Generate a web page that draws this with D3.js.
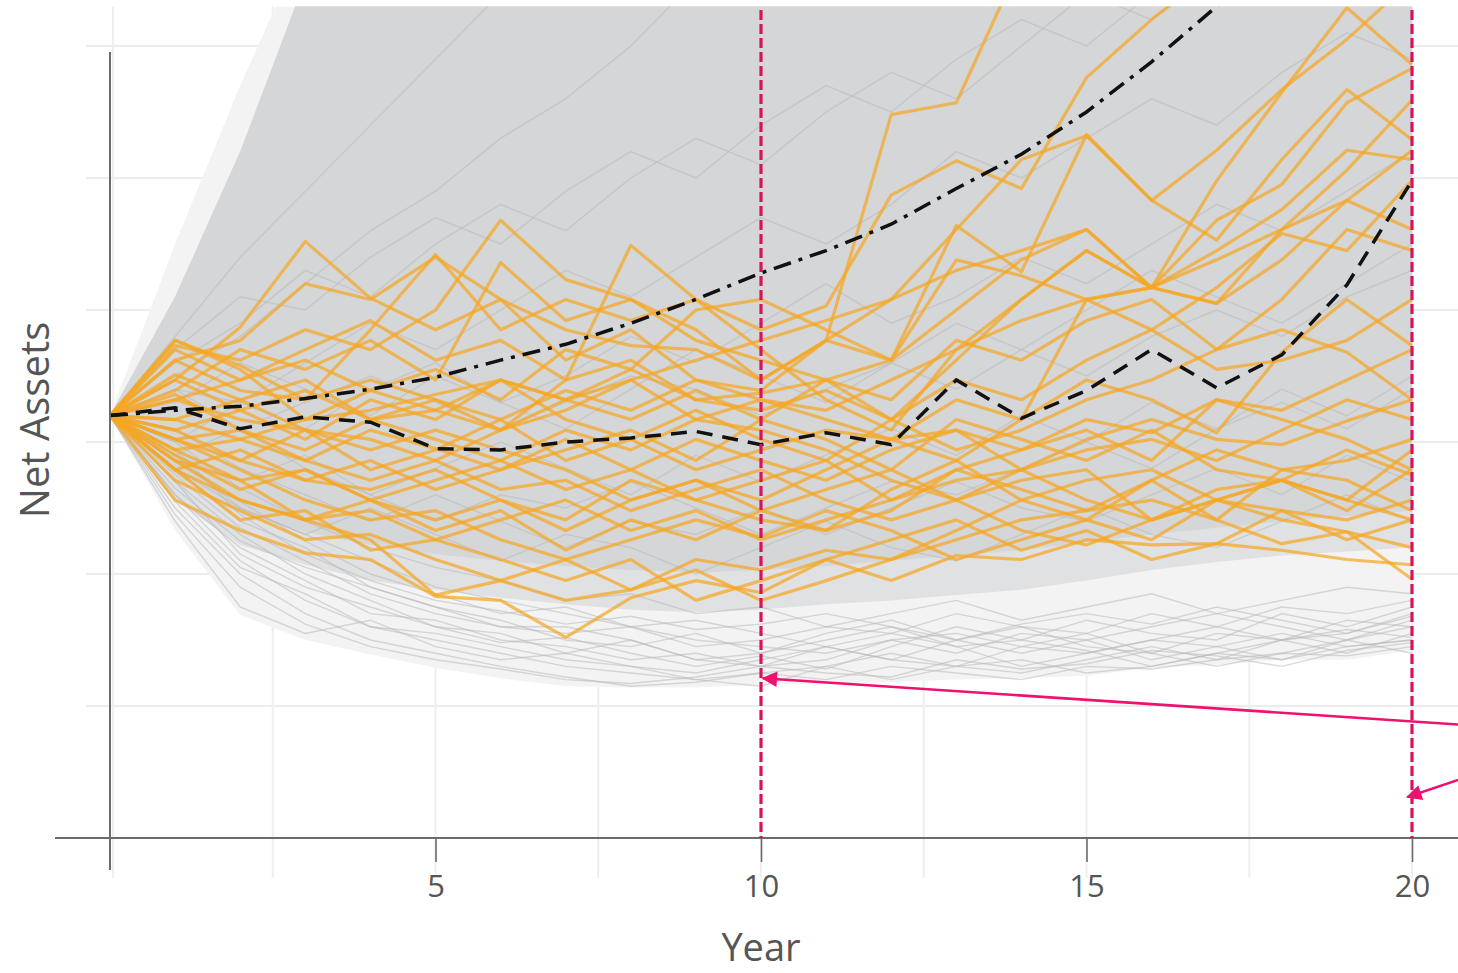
<!DOCTYPE html>
<html>
<head>
<meta charset="utf-8">
<script src="https://cdn.jsdelivr.net/npm/d3@7"></script>
<style>
  html, body { margin: 0; padding: 0; background: #ffffff; }
  svg { display: block; }
</style>
</head>
<body>
<svg id="chart" width="1458" height="973"></svg>
<script>
// ---------------- DATA ----------------
const years = d3.range(0, 21);
const tickYears = [5, 10, 15, 20];
const gridYears = [0, 2.5, 5, 7.5, 10, 12.5, 15, 17.5, 20];
const gridValues = [1, 2, 3, 4, 5, 6];
const markerYears = [10, 20];
const xTitle = "Year";
const yTitle = "Net Assets";

// median (dashed) and mean (dash-dot) of all simulated paths
const medianValues = [3.20,3.26,3.10,3.19,3.15,2.95,2.94,3.00,3.03,3.08,2.98,3.07,2.98,3.47,3.18,3.39,3.70,3.41,3.66,4.19,4.98];
const meanValues   = [3.20,3.24,3.27,3.33,3.40,3.49,3.62,3.74,3.90,4.08,4.28,4.45,4.65,4.92,5.18,5.50,5.88,6.30,6.80,7.40,8.10];

// envelope of the dense grey cloud of simulated paths
const cloudOuterUpper = [3.2,4.5,5.7,6.8,7.5,8,8.5,9,9.5,10,10.5,11,11.5,12,12.5,13,13.5,14,14.5,15,15.5];
const cloudOuterLower = [3.2,2.33,1.69,1.50,1.39,1.29,1.21,1.15,1.14,1.14,1.16,1.17,1.18,1.20,1.21,1.23,1.29,1.31,1.35,1.35,1.42];
const cloudCoreUpper  = [3.2,4.1,5.2,6.5,7.2,7.8,8.3,8.8,9.3,9.8,10.3,10.8,11.3,11.8,12.3,12.8,13.3,13.8,14.3,14.8,15.3];
const cloudCoreLower  = [3.2,2.56,2.22,2.07,1.95,1.88,1.82,1.77,1.73,1.71,1.73,1.77,1.80,1.84,1.88,1.95,2.03,2.09,2.14,2.17,2.20];
const cloudInnerLower = [3.2,2.75,2.45,2.32,2.22,2.15,2.10,2.06,2.03,2.01,2.03,2.06,2.10,2.14,2.18,2.24,2.30,2.35,2.40,2.44,2.48];

// individual grey simulated paths
const grayPaths = [
  [3.2,2.6,2.1,1.8,1.6,1.5,1.4,1.3,1.25,1.2,1.25,1.3,1.2,1.3,1.35,1.25,1.3,1.4,1.35,1.45,1.5],
  [3.2,2.4,1.75,1.55,1.65,1.45,1.35,1.4,1.3,1.2,1.15,1.3,1.4,1.3,1.25,1.35,1.45,1.35,1.5,1.4,1.55],
  [3.2,2.7,2.3,2.0,1.8,1.6,1.55,1.4,1.5,1.35,1.3,1.45,1.35,1.5,1.6,1.45,1.4,1.55,1.5,1.65,1.6],
  [3.2,2.8,2.4,2.2,1.9,1.75,1.65,1.5,1.45,1.55,1.4,1.5,1.6,1.45,1.5,1.65,1.55,1.5,1.7,1.6,1.75],
  [3.2,2.5,2.0,1.7,1.5,1.4,1.3,1.22,1.15,1.18,1.25,1.2,1.3,1.25,1.2,1.3,1.28,1.35,1.4,1.38,1.45],
  [3.2,2.9,2.5,2.3,2.1,1.9,1.8,1.7,1.6,1.5,1.45,1.4,1.5,1.55,1.45,1.4,1.5,1.6,1.5,1.55,1.7],
  [3.2,2.6,2.2,1.95,1.7,1.65,1.5,1.45,1.35,1.4,1.3,1.35,1.5,1.4,1.55,1.5,1.35,1.45,1.55,1.45,1.5],
  [3.2,2.75,2.35,2.1,1.85,1.7,1.6,1.55,1.6,1.45,1.5,1.6,1.55,1.45,1.3,1.4,1.5,1.45,1.35,1.5,1.6],
  [3.2,2.85,2.55,2.25,2.0,1.85,1.7,1.75,1.6,1.65,1.55,1.45,1.55,1.7,1.6,1.55,1.7,1.6,1.75,1.7,1.8],
  [3.2,3.0,2.65,2.4,2.2,2.05,1.95,1.8,1.85,1.7,1.75,1.6,1.7,1.8,1.65,1.75,1.85,1.7,1.8,1.9,1.85],
  [3.2,2.55,2.05,1.85,1.6,1.55,1.45,1.35,1.3,1.25,1.35,1.45,1.35,1.3,1.45,1.55,1.4,1.3,1.4,1.5,1.4],
  [3.2,2.65,2.25,2.05,1.9,1.75,1.6,1.6,1.5,1.35,1.4,1.55,1.65,1.5,1.4,1.5,1.6,1.7,1.6,1.5,1.65],
  [3.2,3.6,3.9,4.3,4.1,4.5,4.8,4.6,5.0,5.3,5.1,5.5,5.8,5.6,6.0,6.4,6.2,6.6,7.0,6.8,7.2],
  [3.2,3.4,3.3,3.6,3.9,3.7,4.0,4.3,4.1,4.4,4.7,4.5,4.8,5.2,5.0,5.3,5.6,5.4,5.8,6.1,5.9],
  [3.2,3.0,3.3,3.1,3.4,3.6,3.3,3.5,3.8,3.6,3.9,4.2,3.9,4.1,4.4,4.2,4.5,4.8,4.6,4.9,5.2],
  [3.2,2.9,2.7,2.9,2.6,2.8,3.0,2.8,2.6,2.9,2.7,2.9,3.1,2.9,3.2,3.0,3.3,3.1,3.4,3.2,3.5],
  [3.2,3.8,4.4,4.9,5.4,5.9,6.4,6.9,7.4,8,8.5,9,9.5,10,10.5,11,11.5,12,12.5,13,13.5],
  [3.2,3.5,3.8,4.2,4.6,4.9,5.3,5.6,6.0,6.5,6.9,7.3,7.6,8,8.4,8.8,9.2,9.6,10,10.4,10.8],
  [3.2,2.8,2.5,2.3,2.5,2.3,2.1,2.3,2.2,2.0,2.2,2.4,2.2,2.1,2.3,2.5,2.3,2.2,2.4,2.6,2.4],
  [3.2,3.1,2.8,2.6,2.4,2.6,2.4,2.2,2.4,2.3,2.5,2.3,2.5,2.7,2.5,2.4,2.6,2.8,2.6,2.9,2.7],
  [3.2,3.3,3.6,3.4,3.2,3.5,3.3,3.1,3.4,3.7,3.5,3.3,3.6,3.9,3.7,4.0,4.3,4.1,3.9,4.2,4.5],
  [3.2,3.7,4.1,4.0,4.4,4.7,4.5,4.9,5.2,5.0,5.4,5.7,5.5,5.9,6.2,6.0,6.4,6.8,6.6,7.0,7.4],
  [3.2,2.9,3.1,2.8,2.6,2.4,2.6,2.5,2.7,2.5,2.3,2.5,2.7,2.6,2.8,3.0,2.8,3.1,3.3,3.1,3.4],
  [3.2,3.4,3.1,3.3,3.5,3.3,3.1,3.3,3.5,3.4,3.2,3.4,3.6,3.4,3.7,3.5,3.8,4.0,3.8,4.1,4.3],
  [3.2,2.45,1.9,1.62,1.45,1.35,1.28,1.2,1.17,1.22,1.3,1.25,1.22,1.35,1.28,1.32,1.42,1.38,1.3,1.42,1.48],
  [3.2,2.7,2.15,1.9,1.75,1.6,1.48,1.52,1.4,1.3,1.38,1.28,1.45,1.6,1.5,1.42,1.3,1.4,1.5,1.58,1.52],
  [3.2,2.95,2.45,2.15,1.95,1.8,1.72,1.62,1.68,1.58,1.62,1.7,1.6,1.5,1.62,1.7,1.62,1.75,1.65,1.55,1.68]
];

// highlighted (orange) sample paths
const orangePaths = [
  [3.20,3.47,3.87,4.52,4.09,3.85,4.08,3.62,3.85,3.47,3.39,3.77,4.08,4.61,5.14,5.32,4.83,5.21,5.67,6.05,6.50],
  [3.20,3.62,3.77,4.20,4.08,4.40,4.08,3.85,3.73,3.70,3.47,3.77,3.62,4.00,4.38,4.61,4.17,4.68,4.95,5.57,5.83],
  [3.20,3.73,3.62,3.85,3.70,4.00,4.68,4.23,4.08,3.77,3.62,3.47,3.17,3.62,4.08,4.45,4.17,4.45,4.76,5.21,5.14],
  [3.20,3.39,3.70,3.55,3.77,3.47,4.36,3.92,4.08,3.85,3.47,3.77,5.48,5.57,6.65,7.11,7.48,7.86,8.24,8.62,9.00],
  [3.20,3.77,3.58,3.32,3.85,4.42,3.85,4.08,3.92,4.08,3.85,4.03,4.87,5.13,4.92,5.76,6.20,6.58,6.95,7.26,7.56],
  [3.20,3.32,3.47,3.62,3.39,3.55,3.32,3.70,3.55,4.00,4.08,3.85,3.62,4.64,4.29,5.33,4.83,4.53,5.14,5.67,5.29],
  [3.20,3.09,3.24,3.02,3.32,3.17,3.47,3.32,3.17,3.39,3.17,3.47,3.62,4.38,4.26,4.08,4.17,4.05,4.61,5.06,5.59],
  [3.20,3.51,3.32,3.47,3.17,3.32,3.09,3.47,4.49,4.08,3.70,3.32,3.09,3.70,4.08,4.45,4.17,4.98,5.65,6.29,5.86],
  [3.20,3.02,2.86,3.09,2.79,2.94,3.17,2.86,3.02,2.79,2.94,3.09,3.02,3.32,3.17,3.47,3.32,3.07,3.68,4.08,3.73],
  [3.20,2.86,2.71,2.79,2.56,2.71,2.86,2.64,2.79,3.02,2.86,2.71,2.94,3.09,2.79,3.02,3.17,3.02,2.98,3.16,3.32],
  [3.20,2.79,2.56,2.41,2.48,2.26,2.41,2.56,2.33,2.48,2.26,2.41,2.56,2.71,2.79,2.56,2.41,2.64,2.71,2.94,2.75],
  [3.20,2.71,2.48,2.26,2.30,2.11,1.95,2.11,1.88,2.03,1.80,1.95,2.11,2.26,2.41,2.48,2.56,2.41,2.23,2.32,2.20],
  [3.20,2.56,2.33,2.16,2.11,1.83,1.80,1.52,1.82,1.95,1.86,2.11,2.26,2.41,2.18,2.33,2.11,2.23,2.18,2.11,2.07],
  [3.20,2.94,3.02,2.86,3.09,2.95,2.79,2.94,3.09,2.86,3.17,3.02,2.79,3.17,3.02,2.86,3.09,2.79,2.71,2.56,2.41],
  [3.20,3.70,3.47,3.70,3.92,3.62,3.77,3.47,3.62,3.32,3.37,3.47,3.32,3.77,3.62,3.92,4.08,3.70,3.85,3.68,3.32],
  [3.20,3.17,3.32,3.09,2.94,3.09,2.94,2.79,2.56,2.71,2.48,2.64,2.79,2.56,2.71,2.79,2.41,2.56,2.71,2.56,2.94],
  [3.20,3.02,2.79,2.56,2.41,2.48,2.26,2.11,2.26,2.41,2.28,2.48,2.33,2.11,2.26,2.41,2.26,2.56,2.48,2.26,2.41],
  [3.20,2.86,2.56,2.41,2.26,1.84,1.95,1.80,1.88,2.11,2.03,2.18,2.11,2.33,2.56,2.71,2.79,2.56,2.41,2.32,1.96],
  [3.20,3.47,3.24,3.39,3.17,3.24,3.47,3.17,3.02,3.24,3.02,2.86,3.17,3.47,3.32,3.62,3.85,3.55,3.62,3.77,4.08],
  [3.20,3.36,3.09,2.94,3.17,3.02,2.86,3.09,2.94,3.17,3.32,3.24,3.47,3.70,3.92,4.08,3.85,4.17,4.58,4.45,4.98],
  [3.20,2.79,2.94,2.71,2.86,2.64,2.79,3.02,2.79,2.56,2.71,2.86,2.56,2.79,2.94,3.09,2.86,3.32,3.17,3.02,2.79],
  [3.20,3.09,2.86,2.71,2.64,2.79,2.56,2.41,2.71,2.56,2.41,2.33,2.48,2.79,2.64,2.48,2.71,2.41,2.79,2.86,3.02],
  [3.20,3.77,3.55,3.17,3.39,3.24,3.09,3.32,3.47,3.17,3.09,2.94,2.71,2.56,2.79,2.94,3.02,2.86,3.09,3.32,3.17],
  [3.20,2.94,2.71,2.41,2.56,2.33,2.48,2.18,2.41,2.26,2.48,2.33,2.64,2.86,3.17,4.08,4.17,4.38,4.61,4.83,4.61],
  [3.20,3.32,3.17,3.09,3.02,2.86,3.09,3.24,3.47,3.62,3.77,3.92,4.08,4.30,4.45,4.61,4.17,4.05,4.38,4.83,5.21],
  [3.20,2.79,2.41,2.48,2.18,2.26,2.11,1.95,2.11,1.80,1.95,2.11,1.95,2.14,2.11,2.26,2.22,2.23,2.48,2.41,2.56],
  [3.20,3.62,3.39,3.32,3.47,3.32,3.17,3.39,3.24,3.47,3.32,3.17,3.02,3.09,2.94,3.17,3.07,3.32,3.24,3.47,3.70],
  [3.20,3.17,3.02,3.17,3.24,3.36,3.47,3.32,3.55,3.32,3.24,3.39,3.17,2.94,3.09,3.32,3.47,3.70,4.08,4.61,4.45],
  [3.20,3.02,3.09,2.86,2.71,2.86,2.64,2.71,2.48,2.64,2.79,2.56,2.41,2.56,2.33,2.22,2.41,2.56,2.71,2.48,2.79],
  [3.20,2.90,2.64,2.79,2.56,2.41,2.56,2.33,2.56,2.71,2.56,2.79,3.02,2.86,2.56,2.41,2.71,2.94,2.79,2.71,2.48]
];

// annotation arrows (coming in from the right margin)
const arrowTails = [{year: 20.71, value: 0.86}, {year: 20.71, value: 0.44}];
const arrowTips  = [{year: 10.03, value: 1.21}, {year: 19.93, value: 0.31}];

// ---------------- DRAW ----------------
const svg = d3.select("#chart");
const x = d3.scaleLinear().domain([0, 20]).range([110, 1412]);
const y = d3.scaleLinear().domain([0, 6.3]).range([838, 6.4]);
const FONT = "'Open Sans', 'Noto Sans', sans-serif";

const defs = svg.append("defs");
defs.append("clipPath").attr("id", "plotClip")
  .append("rect").attr("x", x(0)).attr("y", y(6.3)).attr("width", x(20) - x(0) + 2).attr("height", y(0) - y(6.3));
defs.append("filter").attr("id", "soft").append("feGaussianBlur").attr("stdDeviation", 6);

// grid
svg.append("g").selectAll("line").data(gridValues).join("line")
  .attr("x1", 86).attr("x2", 1458)
  .attr("y1", d => y(d)).attr("y2", d => y(d))
  .attr("stroke", "#ececec").attr("stroke-width", 2);
svg.append("g").selectAll("line").data(gridYears).join("line")
  .attr("x1", d => x(d) + (d === 0 ? 3 : 0)).attr("x2", d => x(d) + (d === 0 ? 3 : 0))
  .attr("y1", y(6.3)).attr("y2", 878)
  .attr("stroke", "#efefef").attr("stroke-width", 2);

const plot = svg.append("g").attr("clip-path", "url(#plotClip)");

// cloud bands
const band = (lo, hi) => d3.area().x((d, i) => x(years[i])).y0((d, i) => y(lo[i])).y1((d, i) => y(hi[i]));
plot.append("path").datum(years)
  .attr("d", band(cloudOuterLower, cloudOuterUpper))
  .attr("fill", "#f3f3f3");
plot.append("path").datum(years)
  .attr("d", band(cloudCoreLower, cloudCoreUpper))
  .attr("fill", "#e0e1e3");
plot.append("path").datum(years)
  .attr("d", band(cloudInnerLower, cloudCoreUpper))
  .attr("fill", "#d5d6d8");

const line = d3.line().x((d, i) => x(years[i])).y(d => y(d));

plot.append("g").selectAll("path").data(grayPaths).join("path")
  .attr("d", line).attr("fill", "none")
  .attr("stroke", "#b8b9bb").attr("stroke-opacity", 0.55).attr("stroke-width", 1.4);

plot.append("g").selectAll("path").data(orangePaths).join("path")
  .attr("d", line).attr("fill", "none")
  .attr("stroke", "#f5a623").attr("stroke-opacity", 0.72).attr("stroke-width", 3.2)
  .attr("stroke-linejoin", "round");

plot.append("path").datum(meanValues).attr("d", line).attr("fill", "none")
  .attr("stroke", "#111").attr("stroke-width", 3.5)
  .attr("stroke-dasharray", "18,8,4,8");
plot.append("path").datum(medianValues).attr("d", line).attr("fill", "none")
  .attr("stroke", "#111").attr("stroke-width", 3.5)
  .attr("stroke-dasharray", "16,10");

// axes
svg.append("line").attr("x1", 55).attr("x2", 1458).attr("y1", y(0)).attr("y2", y(0))
  .attr("stroke", "#6b6b6b").attr("stroke-width", 2);
svg.append("line").attr("x1", x(0)).attr("x2", x(0)).attr("y1", 52).attr("y2", 870)
  .attr("stroke", "#6b6b6b").attr("stroke-width", 2);

const xAxis = d3.axisBottom(x).tickValues(tickYears).tickSize(24).tickPadding(13).tickFormat(d3.format("d"));
const gx = svg.append("g").attr("transform", `translate(0,${y(0)})`).call(xAxis);
gx.select(".domain").remove();
gx.selectAll(".tick line").attr("stroke", "#6b6b6b").attr("stroke-width", 1.6);
gx.selectAll(".tick text").attr("fill", "#555").attr("font-size", 31).attr("font-family", FONT);

// marker lines (pink dashed)
svg.append("g").selectAll("line").data(markerYears).join("line")
  .attr("x1", d => x(d)).attr("x2", d => x(d))
  .attr("y1", 10).attr("y2", y(0))
  .attr("stroke", "#d9115f").attr("stroke-width", 3.2)
  .attr("stroke-dasharray", "10,4");

// arrows
defs.append("marker").attr("id", "arrowHead")
  .attr("viewBox", "0 0 10 10").attr("refX", 9).attr("refY", 5)
  .attr("markerWidth", 7).attr("markerHeight", 6).attr("orient", "auto")
  .attr("markerUnits", "strokeWidth")
  .append("path").attr("d", "M0,0 L10,5 L0,10 z").attr("fill", "#f0106e");
svg.append("g").selectAll("line").data(arrowTips).join("line")
  .attr("x1", (d, i) => x(arrowTails[i].year)).attr("y1", (d, i) => y(arrowTails[i].value))
  .attr("x2", d => x(d.year)).attr("y2", d => y(d.value))
  .attr("stroke", "#f0106e").attr("stroke-width", 2.6)
  .attr("marker-end", "url(#arrowHead)");

// titles
svg.append("text").attr("x", x(10)).attr("y", 961).attr("text-anchor", "middle")
  .attr("font-family", FONT).attr("font-size", 38).attr("fill", "#555").text(xTitle);
svg.append("text").attr("transform", "translate(49,420) rotate(-90)").attr("text-anchor", "middle")
  .attr("font-family", FONT).attr("font-size", 40).attr("fill", "#555").text(yTitle);
</script>
</body>
</html>
